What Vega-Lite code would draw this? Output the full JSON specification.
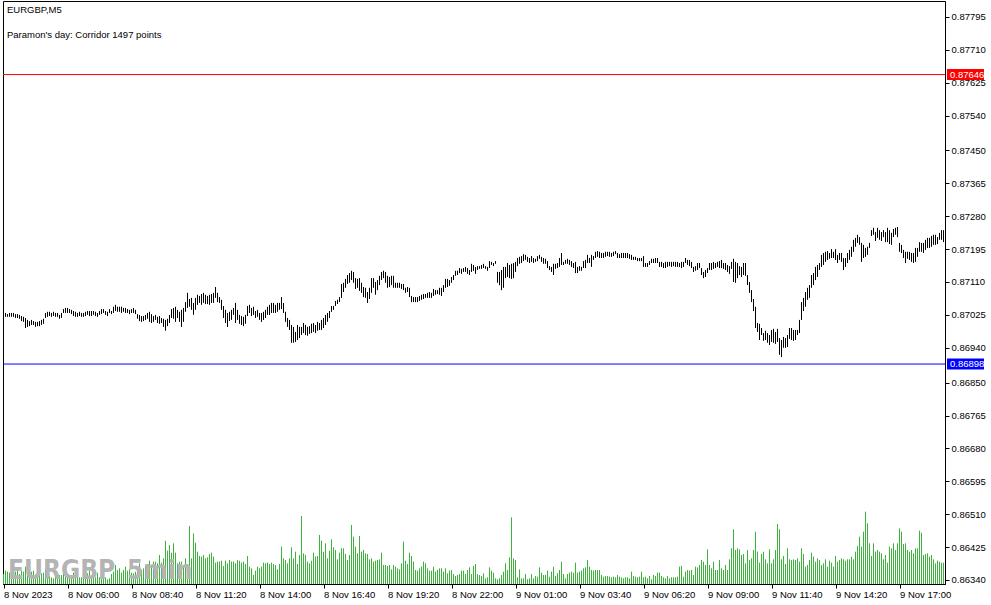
{
  "$schema": "https://vega.github.io/schema/vega-lite/v6.json",
  "width": 942,
  "height": 583,
  "autosize": {"type": "none"},
  "padding": {"left": 3, "top": 1, "right": 46, "bottom": 21},
  "background": "#ffffff",
  "config": {
    "view": {"stroke": "#000000", "strokeWidth": 1},
    "font": "Liberation Sans",
    "axis": {
      "labelFont": "Liberation Sans",
      "labelFontSize": 9.5,
      "labelColor": "#000000",
      "domainColor": "#000000",
      "tickColor": "#000000",
      "tickSize": 4,
      "grid": false,
      "title": null,
      "labelOverlap": false,
      "labelFlush": false,
      "labelBound": false
    }
  },
  "datasets": {
    "bars": [
      {"i":0,"h":0.87030,"l":0.87020,"v":30},{"i":1,"h":0.87030,"l":0.87020,"v":40},{"i":2,"h":0.87027,"l":0.87020,"v":37},{"i":3,"h":0.87030,"l":0.87020,"v":34},{"i":4,"h":0.87030,"l":0.87020,"v":34},
      {"i":5,"h":0.87030,"l":0.87020,"v":32},{"i":6,"h":0.87027,"l":0.87017,"v":37},{"i":7,"h":0.87027,"l":0.87017,"v":44},{"i":8,"h":0.87025,"l":0.87015,"v":30},{"i":9,"h":0.87022,"l":0.87009,"v":40},
      {"i":10,"h":0.87020,"l":0.87007,"v":37},{"i":11,"h":0.87017,"l":0.86991,"v":52},{"i":12,"h":0.87012,"l":0.86994,"v":34},{"i":13,"h":0.87009,"l":0.86996,"v":40},{"i":14,"h":0.87012,"l":0.86999,"v":37},
      {"i":15,"h":0.87009,"l":0.86999,"v":40},{"i":16,"h":0.87007,"l":0.86994,"v":28},{"i":17,"h":0.87007,"l":0.86996,"v":34},{"i":18,"h":0.87009,"l":0.86996,"v":32},{"i":19,"h":0.87012,"l":0.86999,"v":32},
      {"i":20,"h":0.87015,"l":0.87002,"v":34},{"i":21,"h":0.87030,"l":0.87017,"v":42},{"i":22,"h":0.87033,"l":0.87020,"v":22},{"i":23,"h":0.87033,"l":0.87022,"v":24},{"i":24,"h":0.87030,"l":0.87020,"v":20},
      {"i":25,"h":0.87033,"l":0.87022,"v":17},{"i":26,"h":0.87030,"l":0.87020,"v":27},{"i":27,"h":0.87030,"l":0.87020,"v":27},{"i":28,"h":0.87025,"l":0.87015,"v":27},{"i":29,"h":0.87030,"l":0.87017,"v":27},
      {"i":30,"h":0.87040,"l":0.87030,"v":30},{"i":31,"h":0.87043,"l":0.87030,"v":52},{"i":32,"h":0.87043,"l":0.87030,"v":30},{"i":33,"h":0.87040,"l":0.87030,"v":20},{"i":34,"h":0.87038,"l":0.87027,"v":27},
      {"i":35,"h":0.87035,"l":0.87022,"v":34},{"i":36,"h":0.87033,"l":0.87020,"v":22},{"i":37,"h":0.87030,"l":0.87020,"v":37},{"i":38,"h":0.87033,"l":0.87022,"v":20},{"i":39,"h":0.87030,"l":0.87020,"v":20},
      {"i":40,"h":0.87030,"l":0.87020,"v":27},{"i":41,"h":0.87033,"l":0.87022,"v":24},{"i":42,"h":0.87035,"l":0.87025,"v":32},{"i":43,"h":0.87035,"l":0.87022,"v":40},{"i":44,"h":0.87035,"l":0.87022,"v":24},
      {"i":45,"h":0.87035,"l":0.87025,"v":22},{"i":46,"h":0.87033,"l":0.87022,"v":20},{"i":47,"h":0.87030,"l":0.87020,"v":34},{"i":48,"h":0.87035,"l":0.87025,"v":20},{"i":49,"h":0.87040,"l":0.87027,"v":22},
      {"i":50,"h":0.87040,"l":0.87030,"v":34},{"i":51,"h":0.87035,"l":0.87025,"v":20},{"i":52,"h":0.87033,"l":0.87022,"v":14},{"i":53,"h":0.87040,"l":0.87030,"v":17},{"i":54,"h":0.87035,"l":0.87027,"v":30},
      {"i":55,"h":0.87046,"l":0.87030,"v":37},{"i":56,"h":0.87051,"l":0.87035,"v":57},{"i":57,"h":0.87046,"l":0.87033,"v":42},{"i":58,"h":0.87046,"l":0.87033,"v":47},{"i":59,"h":0.87046,"l":0.87030,"v":34},
      {"i":60,"h":0.87043,"l":0.87033,"v":42},{"i":61,"h":0.87043,"l":0.87030,"v":52},{"i":62,"h":0.87040,"l":0.87030,"v":40},{"i":63,"h":0.87038,"l":0.87027,"v":44},{"i":64,"h":0.87040,"l":0.87030,"v":34},
      {"i":65,"h":0.87043,"l":0.87030,"v":32},{"i":66,"h":0.87038,"l":0.87027,"v":37},{"i":67,"h":0.87027,"l":0.87015,"v":52},{"i":68,"h":0.87025,"l":0.87009,"v":62},{"i":69,"h":0.87022,"l":0.87007,"v":42},
      {"i":70,"h":0.87022,"l":0.87009,"v":47},{"i":71,"h":0.87025,"l":0.87012,"v":54},{"i":72,"h":0.87030,"l":0.87015,"v":34},{"i":73,"h":0.87033,"l":0.87007,"v":70},{"i":74,"h":0.87027,"l":0.87004,"v":52},
      {"i":75,"h":0.87022,"l":0.87007,"v":67},{"i":76,"h":0.87025,"l":0.87012,"v":67},{"i":77,"h":0.87020,"l":0.87004,"v":62},{"i":78,"h":0.87022,"l":0.87002,"v":87},{"i":79,"h":0.87017,"l":0.87004,"v":64},
      {"i":80,"h":0.87015,"l":0.86994,"v":77},{"i":81,"h":0.87012,"l":0.86984,"v":130},{"i":82,"h":0.87015,"l":0.86996,"v":100},{"i":83,"h":0.87025,"l":0.87004,"v":117},{"i":84,"h":0.87040,"l":0.87017,"v":94},
      {"i":85,"h":0.87043,"l":0.87015,"v":122},{"i":86,"h":0.87046,"l":0.87007,"v":94},{"i":87,"h":0.87038,"l":0.87017,"v":62},{"i":88,"h":0.87033,"l":0.87007,"v":67},{"i":89,"h":0.87038,"l":0.86994,"v":67},
      {"i":90,"h":0.87043,"l":0.87007,"v":57},{"i":91,"h":0.87058,"l":0.87033,"v":77},{"i":92,"h":0.87082,"l":0.87043,"v":60},{"i":93,"h":0.87066,"l":0.87046,"v":174},{"i":94,"h":0.87069,"l":0.87038,"v":77},
      {"i":95,"h":0.87056,"l":0.87025,"v":152},{"i":96,"h":0.87069,"l":0.87038,"v":124},{"i":97,"h":0.87077,"l":0.87051,"v":97},{"i":98,"h":0.87074,"l":0.87056,"v":84},{"i":99,"h":0.87079,"l":0.87051,"v":82},
      {"i":100,"h":0.87082,"l":0.87056,"v":87},{"i":101,"h":0.87077,"l":0.87053,"v":77},{"i":102,"h":0.87074,"l":0.87053,"v":80},{"i":103,"h":0.87077,"l":0.87051,"v":90},{"i":104,"h":0.87079,"l":0.87056,"v":94},
      {"i":105,"h":0.87082,"l":0.87056,"v":82},{"i":106,"h":0.87097,"l":0.87069,"v":64},{"i":107,"h":0.87082,"l":0.87058,"v":67},{"i":108,"h":0.87071,"l":0.87056,"v":67},{"i":109,"h":0.87064,"l":0.87038,"v":70},
      {"i":110,"h":0.87048,"l":0.87017,"v":54},{"i":111,"h":0.87038,"l":0.87004,"v":70},{"i":112,"h":0.87030,"l":0.86994,"v":62},{"i":113,"h":0.87033,"l":0.87009,"v":72},{"i":114,"h":0.87038,"l":0.87012,"v":67},
      {"i":115,"h":0.87043,"l":0.87025,"v":67},{"i":116,"h":0.87056,"l":0.87004,"v":62},{"i":117,"h":0.87038,"l":0.87012,"v":72},{"i":118,"h":0.87025,"l":0.87002,"v":70},{"i":119,"h":0.87022,"l":0.86999,"v":64},
      {"i":120,"h":0.87020,"l":0.86996,"v":67},{"i":121,"h":0.87025,"l":0.87002,"v":60},{"i":122,"h":0.87048,"l":0.87022,"v":84},{"i":123,"h":0.87051,"l":0.87030,"v":52},{"i":124,"h":0.87043,"l":0.87022,"v":47},
      {"i":125,"h":0.87046,"l":0.87025,"v":27},{"i":126,"h":0.87035,"l":0.87017,"v":40},{"i":127,"h":0.87038,"l":0.87020,"v":52},{"i":128,"h":0.87030,"l":0.87012,"v":47},{"i":129,"h":0.87030,"l":0.87007,"v":52},
      {"i":130,"h":0.87033,"l":0.87012,"v":64},{"i":131,"h":0.87038,"l":0.87017,"v":62},{"i":132,"h":0.87046,"l":0.87025,"v":64},{"i":133,"h":0.87051,"l":0.87025,"v":60},{"i":134,"h":0.87056,"l":0.87030,"v":64},
      {"i":135,"h":0.87056,"l":0.87030,"v":60},{"i":136,"h":0.87051,"l":0.87030,"v":57},{"i":137,"h":0.87056,"l":0.87033,"v":44},{"i":138,"h":0.87056,"l":0.87038,"v":60},{"i":139,"h":0.87071,"l":0.87040,"v":112},
      {"i":140,"h":0.87056,"l":0.87030,"v":77},{"i":141,"h":0.87033,"l":0.87007,"v":72},{"i":142,"h":0.87017,"l":0.86994,"v":62},{"i":143,"h":0.87012,"l":0.86986,"v":77},{"i":144,"h":0.86999,"l":0.86953,"v":110},
      {"i":145,"h":0.86994,"l":0.86953,"v":77},{"i":146,"h":0.86981,"l":0.86955,"v":97},{"i":147,"h":0.86999,"l":0.86960,"v":60},{"i":148,"h":0.86994,"l":0.86965,"v":87},{"i":149,"h":0.86994,"l":0.86973,"v":204},
      {"i":150,"h":0.87004,"l":0.86978,"v":92},{"i":151,"h":0.86999,"l":0.86973,"v":87},{"i":152,"h":0.86994,"l":0.86971,"v":67},{"i":153,"h":0.86996,"l":0.86976,"v":62},{"i":154,"h":0.87002,"l":0.86978,"v":70},
      {"i":155,"h":0.87004,"l":0.86981,"v":94},{"i":156,"h":0.86999,"l":0.86978,"v":82},{"i":157,"h":0.87007,"l":0.86984,"v":84},{"i":158,"h":0.87004,"l":0.86986,"v":147},{"i":159,"h":0.87012,"l":0.86986,"v":130},
      {"i":160,"h":0.87017,"l":0.86991,"v":97},{"i":161,"h":0.87025,"l":0.86999,"v":122},{"i":162,"h":0.87030,"l":0.87007,"v":77},{"i":163,"h":0.87035,"l":0.87017,"v":100},{"i":164,"h":0.87048,"l":0.87033,"v":134},
      {"i":165,"h":0.87048,"l":0.87038,"v":110},{"i":166,"h":0.87061,"l":0.87048,"v":102},{"i":167,"h":0.87064,"l":0.87053,"v":74},{"i":168,"h":0.87071,"l":0.87058,"v":94},{"i":169,"h":0.87105,"l":0.87069,"v":107},
      {"i":170,"h":0.87108,"l":0.87084,"v":107},{"i":171,"h":0.87118,"l":0.87095,"v":90},{"i":172,"h":0.87128,"l":0.87105,"v":72},{"i":173,"h":0.87133,"l":0.87108,"v":87},{"i":174,"h":0.87139,"l":0.87115,"v":177},
      {"i":175,"h":0.87136,"l":0.87108,"v":142},{"i":176,"h":0.87120,"l":0.87092,"v":112},{"i":177,"h":0.87118,"l":0.87095,"v":92},{"i":178,"h":0.87120,"l":0.87087,"v":144},{"i":179,"h":0.87108,"l":0.87082,"v":97},
      {"i":180,"h":0.87097,"l":0.87071,"v":102},{"i":181,"h":0.87095,"l":0.87069,"v":92},{"i":182,"h":0.87084,"l":0.87056,"v":90},{"i":183,"h":0.87095,"l":0.87066,"v":74},{"i":184,"h":0.87120,"l":0.87082,"v":77},
      {"i":185,"h":0.87120,"l":0.87095,"v":67},{"i":186,"h":0.87110,"l":0.87077,"v":70},{"i":187,"h":0.87115,"l":0.87089,"v":72},{"i":188,"h":0.87126,"l":0.87102,"v":74},{"i":189,"h":0.87136,"l":0.87115,"v":94},
      {"i":190,"h":0.87139,"l":0.87120,"v":57},{"i":191,"h":0.87136,"l":0.87108,"v":57},{"i":192,"h":0.87126,"l":0.87095,"v":54},{"i":193,"h":0.87123,"l":0.87097,"v":57},{"i":194,"h":0.87126,"l":0.87102,"v":44},
      {"i":195,"h":0.87126,"l":0.87095,"v":57},{"i":196,"h":0.87108,"l":0.87095,"v":52},{"i":197,"h":0.87108,"l":0.87095,"v":47},{"i":198,"h":0.87108,"l":0.87095,"v":44},{"i":199,"h":0.87105,"l":0.87092,"v":62},
      {"i":200,"h":0.87105,"l":0.87089,"v":127},{"i":201,"h":0.87095,"l":0.87082,"v":70},{"i":202,"h":0.87097,"l":0.87084,"v":60},{"i":203,"h":0.87095,"l":0.87071,"v":94},{"i":204,"h":0.87074,"l":0.87058,"v":84},
      {"i":205,"h":0.87071,"l":0.87058,"v":67},{"i":206,"h":0.87071,"l":0.87058,"v":42},{"i":207,"h":0.87071,"l":0.87058,"v":40},{"i":208,"h":0.87074,"l":0.87061,"v":47},{"i":209,"h":0.87077,"l":0.87064,"v":52},
      {"i":210,"h":0.87079,"l":0.87066,"v":67},{"i":211,"h":0.87079,"l":0.87069,"v":62},{"i":212,"h":0.87082,"l":0.87069,"v":47},{"i":213,"h":0.87084,"l":0.87069,"v":40},{"i":214,"h":0.87082,"l":0.87069,"v":40},
      {"i":215,"h":0.87092,"l":0.87074,"v":52},{"i":216,"h":0.87089,"l":0.87077,"v":37},{"i":217,"h":0.87089,"l":0.87079,"v":42},{"i":218,"h":0.87095,"l":0.87077,"v":47},{"i":219,"h":0.87095,"l":0.87074,"v":47},
      {"i":220,"h":0.87102,"l":0.87084,"v":37},{"i":221,"h":0.87118,"l":0.87095,"v":47},{"i":222,"h":0.87118,"l":0.87097,"v":32},{"i":223,"h":0.87115,"l":0.87100,"v":40},{"i":224,"h":0.87123,"l":0.87108,"v":42},
      {"i":225,"h":0.87128,"l":0.87115,"v":30},{"i":226,"h":0.87139,"l":0.87126,"v":24},{"i":227,"h":0.87139,"l":0.87128,"v":27},{"i":228,"h":0.87146,"l":0.87133,"v":30},{"i":229,"h":0.87144,"l":0.87131,"v":40},
      {"i":230,"h":0.87146,"l":0.87136,"v":40},{"i":231,"h":0.87149,"l":0.87136,"v":30},{"i":232,"h":0.87146,"l":0.87131,"v":42},{"i":233,"h":0.87141,"l":0.87128,"v":50},{"i":234,"h":0.87157,"l":0.87136,"v":30},
      {"i":235,"h":0.87154,"l":0.87139,"v":54},{"i":236,"h":0.87149,"l":0.87131,"v":60},{"i":237,"h":0.87151,"l":0.87141,"v":30},{"i":238,"h":0.87151,"l":0.87144,"v":27},{"i":239,"h":0.87154,"l":0.87144,"v":24},
      {"i":240,"h":0.87157,"l":0.87146,"v":32},{"i":241,"h":0.87151,"l":0.87144,"v":17},{"i":242,"h":0.87149,"l":0.87139,"v":20},{"i":243,"h":0.87164,"l":0.87146,"v":50},{"i":244,"h":0.87162,"l":0.87154,"v":40},
      {"i":245,"h":0.87159,"l":0.87151,"v":34},{"i":246,"h":0.87164,"l":0.87157,"v":17},{"i":247,"h":0.87136,"l":0.87108,"v":14},{"i":248,"h":0.87136,"l":0.87102,"v":17},{"i":249,"h":0.87141,"l":0.87089,"v":27},
      {"i":250,"h":0.87149,"l":0.87095,"v":37},{"i":251,"h":0.87149,"l":0.87120,"v":62},{"i":252,"h":0.87159,"l":0.87123,"v":42},{"i":253,"h":0.87154,"l":0.87120,"v":80},{"i":254,"h":0.87157,"l":0.87118,"v":200},
      {"i":255,"h":0.87159,"l":0.87120,"v":77},{"i":256,"h":0.87162,"l":0.87136,"v":72},{"i":257,"h":0.87172,"l":0.87151,"v":20},{"i":258,"h":0.87175,"l":0.87157,"v":44},{"i":259,"h":0.87177,"l":0.87159,"v":17},
      {"i":260,"h":0.87182,"l":0.87164,"v":17},{"i":261,"h":0.87180,"l":0.87167,"v":30},{"i":262,"h":0.87175,"l":0.87162,"v":14},{"i":263,"h":0.87172,"l":0.87159,"v":17},{"i":264,"h":0.87177,"l":0.87162,"v":30},
      {"i":265,"h":0.87172,"l":0.87159,"v":17},{"i":266,"h":0.87170,"l":0.87162,"v":24},{"i":267,"h":0.87177,"l":0.87164,"v":22},{"i":268,"h":0.87180,"l":0.87170,"v":50},{"i":269,"h":0.87175,"l":0.87162,"v":34},
      {"i":270,"h":0.87172,"l":0.87157,"v":27},{"i":271,"h":0.87170,"l":0.87157,"v":27},{"i":272,"h":0.87164,"l":0.87146,"v":40},{"i":273,"h":0.87151,"l":0.87141,"v":22},{"i":274,"h":0.87149,"l":0.87136,"v":37},
      {"i":275,"h":0.87157,"l":0.87128,"v":52},{"i":276,"h":0.87157,"l":0.87144,"v":24},{"i":277,"h":0.87159,"l":0.87146,"v":32},{"i":278,"h":0.87172,"l":0.87149,"v":42},{"i":279,"h":0.87185,"l":0.87154,"v":67},
      {"i":280,"h":0.87162,"l":0.87154,"v":30},{"i":281,"h":0.87167,"l":0.87157,"v":17},{"i":282,"h":0.87170,"l":0.87157,"v":30},{"i":283,"h":0.87167,"l":0.87154,"v":34},{"i":284,"h":0.87164,"l":0.87149,"v":37},
      {"i":285,"h":0.87159,"l":0.87146,"v":34},{"i":286,"h":0.87162,"l":0.87133,"v":64},{"i":287,"h":0.87149,"l":0.87133,"v":34},{"i":288,"h":0.87151,"l":0.87139,"v":37},{"i":289,"h":0.87149,"l":0.87139,"v":40},
      {"i":290,"h":0.87164,"l":0.87146,"v":47},{"i":291,"h":0.87167,"l":0.87146,"v":50},{"i":292,"h":0.87180,"l":0.87159,"v":72},{"i":293,"h":0.87172,"l":0.87159,"v":52},{"i":294,"h":0.87180,"l":0.87149,"v":42},
      {"i":295,"h":0.87177,"l":0.87167,"v":40},{"i":296,"h":0.87188,"l":0.87172,"v":42},{"i":297,"h":0.87190,"l":0.87175,"v":42},{"i":298,"h":0.87188,"l":0.87172,"v":42},{"i":299,"h":0.87185,"l":0.87172,"v":27},
      {"i":300,"h":0.87185,"l":0.87172,"v":22},{"i":301,"h":0.87188,"l":0.87175,"v":24},{"i":302,"h":0.87188,"l":0.87177,"v":24},{"i":303,"h":0.87188,"l":0.87175,"v":22},{"i":304,"h":0.87185,"l":0.87175,"v":20},
      {"i":305,"h":0.87188,"l":0.87177,"v":22},{"i":306,"h":0.87190,"l":0.87182,"v":20},{"i":307,"h":0.87185,"l":0.87172,"v":27},{"i":308,"h":0.87182,"l":0.87172,"v":22},{"i":309,"h":0.87185,"l":0.87172,"v":20},
      {"i":310,"h":0.87185,"l":0.87172,"v":17},{"i":311,"h":0.87185,"l":0.87172,"v":20},{"i":312,"h":0.87185,"l":0.87172,"v":20},{"i":313,"h":0.87182,"l":0.87170,"v":17},{"i":314,"h":0.87180,"l":0.87167,"v":37},
      {"i":315,"h":0.87175,"l":0.87167,"v":24},{"i":316,"h":0.87175,"l":0.87167,"v":22},{"i":317,"h":0.87172,"l":0.87164,"v":20},{"i":318,"h":0.87172,"l":0.87164,"v":22},{"i":319,"h":0.87172,"l":0.87164,"v":37},
      {"i":320,"h":0.87177,"l":0.87149,"v":20},{"i":321,"h":0.87159,"l":0.87149,"v":22},{"i":322,"h":0.87159,"l":0.87149,"v":17},{"i":323,"h":0.87164,"l":0.87154,"v":24},{"i":324,"h":0.87170,"l":0.87159,"v":14},
      {"i":325,"h":0.87170,"l":0.87159,"v":27},{"i":326,"h":0.87172,"l":0.87159,"v":24},{"i":327,"h":0.87172,"l":0.87159,"v":34},{"i":328,"h":0.87162,"l":0.87149,"v":34},{"i":329,"h":0.87162,"l":0.87149,"v":24},
      {"i":330,"h":0.87159,"l":0.87146,"v":20},{"i":331,"h":0.87162,"l":0.87146,"v":17},{"i":332,"h":0.87162,"l":0.87149,"v":24},{"i":333,"h":0.87162,"l":0.87151,"v":17},{"i":334,"h":0.87162,"l":0.87149,"v":20},
      {"i":335,"h":0.87162,"l":0.87151,"v":20},{"i":336,"h":0.87162,"l":0.87149,"v":20},{"i":337,"h":0.87162,"l":0.87149,"v":22},{"i":338,"h":0.87159,"l":0.87149,"v":52},{"i":339,"h":0.87162,"l":0.87146,"v":54},
      {"i":340,"h":0.87162,"l":0.87149,"v":22},{"i":341,"h":0.87172,"l":0.87159,"v":37},{"i":342,"h":0.87167,"l":0.87154,"v":42},{"i":343,"h":0.87167,"l":0.87151,"v":40},{"i":344,"h":0.87162,"l":0.87146,"v":42},
      {"i":345,"h":0.87149,"l":0.87136,"v":27},{"i":346,"h":0.87151,"l":0.87139,"v":52},{"i":347,"h":0.87159,"l":0.87141,"v":50},{"i":348,"h":0.87159,"l":0.87146,"v":57},{"i":349,"h":0.87146,"l":0.87128,"v":72},
      {"i":350,"h":0.87136,"l":0.87120,"v":67},{"i":351,"h":0.87141,"l":0.87123,"v":57},{"i":352,"h":0.87146,"l":0.87133,"v":104},{"i":353,"h":0.87159,"l":0.87141,"v":57},{"i":354,"h":0.87159,"l":0.87141,"v":47},
      {"i":355,"h":0.87162,"l":0.87144,"v":67},{"i":356,"h":0.87159,"l":0.87146,"v":42},{"i":357,"h":0.87162,"l":0.87149,"v":42},{"i":358,"h":0.87164,"l":0.87146,"v":72},{"i":359,"h":0.87167,"l":0.87146,"v":47},
      {"i":360,"h":0.87159,"l":0.87144,"v":42},{"i":361,"h":0.87159,"l":0.87141,"v":57},{"i":362,"h":0.87154,"l":0.87136,"v":42},{"i":363,"h":0.87151,"l":0.87131,"v":74},{"i":364,"h":0.87162,"l":0.87144,"v":107},
      {"i":365,"h":0.87170,"l":0.87110,"v":164},{"i":366,"h":0.87162,"l":0.87108,"v":102},{"i":367,"h":0.87159,"l":0.87120,"v":107},{"i":368,"h":0.87151,"l":0.87128,"v":104},{"i":369,"h":0.87149,"l":0.87123,"v":87},
      {"i":370,"h":0.87159,"l":0.87128,"v":90},{"i":371,"h":0.87159,"l":0.87126,"v":62},{"i":372,"h":0.87128,"l":0.87102,"v":102},{"i":373,"h":0.87110,"l":0.87082,"v":72},{"i":374,"h":0.87089,"l":0.87058,"v":77},
      {"i":375,"h":0.87066,"l":0.87035,"v":102},{"i":376,"h":0.87046,"l":0.86991,"v":157},{"i":377,"h":0.87004,"l":0.86981,"v":97},{"i":378,"h":0.87002,"l":0.86960,"v":64},{"i":379,"h":0.86991,"l":0.86973,"v":90},
      {"i":380,"h":0.86978,"l":0.86958,"v":97},{"i":381,"h":0.86984,"l":0.86960,"v":74},{"i":382,"h":0.86978,"l":0.86953,"v":62},{"i":383,"h":0.86973,"l":0.86947,"v":104},{"i":384,"h":0.86986,"l":0.86955,"v":62},
      {"i":385,"h":0.86989,"l":0.86953,"v":74},{"i":386,"h":0.86981,"l":0.86950,"v":102},{"i":387,"h":0.86989,"l":0.86955,"v":180},{"i":388,"h":0.86965,"l":0.86922,"v":164},{"i":389,"h":0.86960,"l":0.86916,"v":74},
      {"i":390,"h":0.86968,"l":0.86940,"v":84},{"i":391,"h":0.86965,"l":0.86940,"v":60},{"i":392,"h":0.86973,"l":0.86942,"v":107},{"i":393,"h":0.86991,"l":0.86963,"v":74},{"i":394,"h":0.86991,"l":0.86960,"v":72},
      {"i":395,"h":0.86986,"l":0.86958,"v":74},{"i":396,"h":0.86986,"l":0.86960,"v":72},{"i":397,"h":0.86986,"l":0.86973,"v":77},{"i":398,"h":0.87012,"l":0.86978,"v":67},{"i":399,"h":0.87058,"l":0.87012,"v":107},
      {"i":400,"h":0.87069,"l":0.87035,"v":90},{"i":401,"h":0.87084,"l":0.87046,"v":52},{"i":402,"h":0.87095,"l":0.87064,"v":57},{"i":403,"h":0.87102,"l":0.87069,"v":72},{"i":404,"h":0.87128,"l":0.87095,"v":94},
      {"i":405,"h":0.87133,"l":0.87102,"v":82},{"i":406,"h":0.87149,"l":0.87115,"v":67},{"i":407,"h":0.87154,"l":0.87123,"v":77},{"i":408,"h":0.87159,"l":0.87141,"v":72},{"i":409,"h":0.87180,"l":0.87149,"v":57},
      {"i":410,"h":0.87185,"l":0.87154,"v":62},{"i":411,"h":0.87188,"l":0.87162,"v":74},{"i":412,"h":0.87190,"l":0.87167,"v":52},{"i":413,"h":0.87185,"l":0.87170,"v":70},{"i":414,"h":0.87195,"l":0.87172,"v":64},
      {"i":415,"h":0.87188,"l":0.87172,"v":52},{"i":416,"h":0.87195,"l":0.87167,"v":84},{"i":417,"h":0.87180,"l":0.87159,"v":67},{"i":418,"h":0.87185,"l":0.87167,"v":72},{"i":419,"h":0.87185,"l":0.87162,"v":77},
      {"i":420,"h":0.87172,"l":0.87141,"v":74},{"i":421,"h":0.87172,"l":0.87149,"v":70},{"i":422,"h":0.87185,"l":0.87159,"v":74},{"i":423,"h":0.87193,"l":0.87167,"v":74},{"i":424,"h":0.87201,"l":0.87175,"v":82},
      {"i":425,"h":0.87219,"l":0.87188,"v":74},{"i":426,"h":0.87224,"l":0.87201,"v":97},{"i":427,"h":0.87232,"l":0.87211,"v":114},{"i":428,"h":0.87226,"l":0.87206,"v":142},{"i":429,"h":0.87211,"l":0.87162,"v":112},
      {"i":430,"h":0.87206,"l":0.87172,"v":157},{"i":431,"h":0.87198,"l":0.87175,"v":217},{"i":432,"h":0.87201,"l":0.87180,"v":182},{"i":433,"h":0.87211,"l":0.87198,"v":122},{"i":434,"h":0.87244,"l":0.87229,"v":84},
      {"i":435,"h":0.87250,"l":0.87232,"v":122},{"i":436,"h":0.87239,"l":0.87216,"v":97},{"i":437,"h":0.87250,"l":0.87224,"v":102},{"i":438,"h":0.87244,"l":0.87219,"v":97},{"i":439,"h":0.87239,"l":0.87216,"v":92},
      {"i":440,"h":0.87244,"l":0.87226,"v":74},{"i":441,"h":0.87239,"l":0.87213,"v":87},{"i":442,"h":0.87250,"l":0.87213,"v":64},{"i":443,"h":0.87244,"l":0.87208,"v":112},{"i":444,"h":0.87237,"l":0.87206,"v":107},
      {"i":445,"h":0.87247,"l":0.87226,"v":122},{"i":446,"h":0.87250,"l":0.87232,"v":102},{"i":447,"h":0.87252,"l":0.87226,"v":122},{"i":448,"h":0.87211,"l":0.87188,"v":167},{"i":449,"h":0.87206,"l":0.87185,"v":157},
      {"i":450,"h":0.87193,"l":0.87172,"v":120},{"i":451,"h":0.87188,"l":0.87159,"v":122},{"i":452,"h":0.87188,"l":0.87170,"v":102},{"i":453,"h":0.87188,"l":0.87167,"v":97},{"i":454,"h":0.87185,"l":0.87162,"v":102},
      {"i":455,"h":0.87185,"l":0.87159,"v":92},{"i":456,"h":0.87198,"l":0.87162,"v":107},{"i":457,"h":0.87198,"l":0.87175,"v":107},{"i":458,"h":0.87213,"l":0.87188,"v":160},{"i":459,"h":0.87211,"l":0.87188,"v":154},
      {"i":460,"h":0.87211,"l":0.87185,"v":87},{"i":461,"h":0.87219,"l":0.87193,"v":90},{"i":462,"h":0.87224,"l":0.87198,"v":92},{"i":463,"h":0.87224,"l":0.87198,"v":82},{"i":464,"h":0.87229,"l":0.87201,"v":87},
      {"i":465,"h":0.87232,"l":0.87206,"v":74},{"i":466,"h":0.87232,"l":0.87206,"v":62},{"i":467,"h":0.87226,"l":0.87208,"v":70},{"i":468,"h":0.87237,"l":0.87219,"v":67},{"i":469,"h":0.87244,"l":0.87219,"v":64},
      {"i":470,"h":0.87244,"l":0.87213,"v":64}
    ],
    "levels": [
      {"kind": "upper", "price": 0.87646},
      {"kind": "lower", "price": 0.86898}
    ]
  },
  "layer": [
    {
      "data": {"name": "bars"},
      "mark": {"type": "rule", "color": "#3cb43c", "strokeWidth": 1},
      "encoding": {
        "x": {"field": "i", "type": "quantitative", "scale": {"domain": [-0.25, 470.75], "nice": false, "zero": false}},
        "y": {"field": "v", "type": "quantitative", "scale": {"domain": [0, 1749], "nice": false}, "axis": null},
        "y2": {"datum": 0}
      }
    },
    {
      "layer": [
        {
          "data": {"name": "bars"},
          "mark": {"type": "rule", "color": "#000000", "strokeWidth": 1},
          "encoding": {
            "x": {
              "field": "i",
              "type": "quantitative",
              "scale": {"domain": [-0.25, 470.75], "nice": false, "zero": false},
              "axis": {
                "orient": "bottom",
                "values": [0, 32, 64, 96, 128, 160, 192, 224, 256, 288, 320, 352, 384, 416, 448],
                "tickCount": 30,
                "labelExpr": "['8 Nov 2023','8 Nov 06:00','8 Nov 08:40','8 Nov 11:20','8 Nov 14:00','8 Nov 16:40','8 Nov 19:20','8 Nov 22:00','9 Nov 01:00','9 Nov 03:40','9 Nov 06:20','9 Nov 09:00','9 Nov 11:40','9 Nov 14:20','9 Nov 17:00'][datum.value / 32]",
                "labelAlign": "left",
                "labelBaseline": "top",
                "labelPadding": 1,
                "labelFlush": false,
                "labelOverlap": false
              }
            },
            "y": {
              "field": "l",
              "type": "quantitative",
              "scale": {"domain": [0.863296, 0.878361], "nice": false, "zero": false},
              "axis": {
                "orient": "right",
                "values": [0.87795, 0.8771, 0.87625, 0.8754, 0.8745, 0.87365, 0.8728, 0.87195, 0.8711, 0.87025, 0.8694, 0.8685, 0.86765, 0.8668, 0.86595, 0.8651, 0.86425, 0.8634],
                "tickCount": 30,
                "format": ".5f",
                "labelBaseline": "middle",
                "labelPadding": 2,
                "labelFlush": false,
                "labelOverlap": false
              }
            },
            "y2": {"field": "h"}
          }
        },
        {
          "data": {"name": "levels"},
          "mark": {"type": "rule", "strokeWidth": 1},
          "encoding": {
            "y": {"field": "price", "type": "quantitative", "scale": {"domain": [0.863296, 0.878361], "nice": false, "zero": false}},
            "color": {"field": "kind", "type": "nominal", "scale": {"domain": ["upper", "lower"], "range": ["#ff0000", "#0000ff"]}, "legend": null}
          }
        },
        {
          "data": {"name": "levels"},
          "transform": [
            {"calculate": "datum.price - 0.000142", "as": "lo"},
            {"calculate": "datum.price + 0.000142", "as": "hi"}
          ],
          "mark": {"type": "rect", "x": {"expr": "width + 2"}, "x2": {"expr": "width + 39"}, "clip": false},
          "encoding": {
            "y": {"field": "lo", "type": "quantitative", "scale": {"domain": [0.863296, 0.878361], "nice": false, "zero": false}},
            "y2": {"field": "hi"},
            "color": {"field": "kind", "type": "nominal", "scale": {"domain": ["upper", "lower"], "range": ["#ff0000", "#0000ff"]}, "legend": null}
          }
        },
        {
          "data": {"name": "levels"},
          "mark": {"type": "text", "x": {"expr": "width + 5"}, "align": "left", "baseline": "middle", "font": "Liberation Sans", "fontSize": 9.5, "color": "#ffffff", "clip": false},
          "encoding": {
            "y": {"field": "price", "type": "quantitative", "scale": {"domain": [0.863296, 0.878361], "nice": false, "zero": false}},
            "text": {"field": "price", "type": "quantitative", "format": ".5f"}
          }
        },
        {
          "data": {"values": [{}]},
          "mark": {"type": "text", "text": "EURGBP,M5", "align": "left", "baseline": "middle", "font": "Liberation Sans", "fontSize": 9.5, "color": "#000000"},
          "encoding": {
            "x": {"datum": 1.75, "type": "quantitative"},
            "y": {"datum": 0.878116, "type": "quantitative"}
          }
        },
        {
          "data": {"values": [{}]},
          "mark": {"type": "text", "text": "Paramon's day: Corridor 1497 points", "align": "left", "baseline": "middle", "font": "Liberation Sans", "fontSize": 9.5, "color": "#000000"},
          "encoding": {
            "x": {"datum": 1.75, "type": "quantitative"},
            "y": {"datum": 0.877495, "type": "quantitative"}
          }
        },
        {
          "data": {"values": [{}]},
          "mark": {"type": "text", "text": "EURGBP", "align": "left", "baseline": "alphabetic", "font": "DejaVu Sans Condensed, Liberation Sans", "fontWeight": "bold", "fontSize": 26, "color": "#b4b4b4"},
          "encoding": {
            "x": {"datum": 2.25, "type": "quantitative"},
            "y": {"datum": 0.863425, "type": "quantitative"}
          }
        },
        {
          "data": {"values": [{}]},
          "mark": {"type": "text", "text": "5min", "align": "left", "baseline": "alphabetic", "font": "DejaVu Sans Condensed, Liberation Sans", "fontWeight": "bold", "fontSize": 26, "color": "#b4b4b4"},
          "encoding": {
            "x": {"datum": 61.75, "type": "quantitative"},
            "y": {"datum": 0.863425, "type": "quantitative"}
          }
        }
      ]
    }
  ],
  "resolve": {"scale": {"y": "independent"}, "axis": {"y": "independent"}}
}
